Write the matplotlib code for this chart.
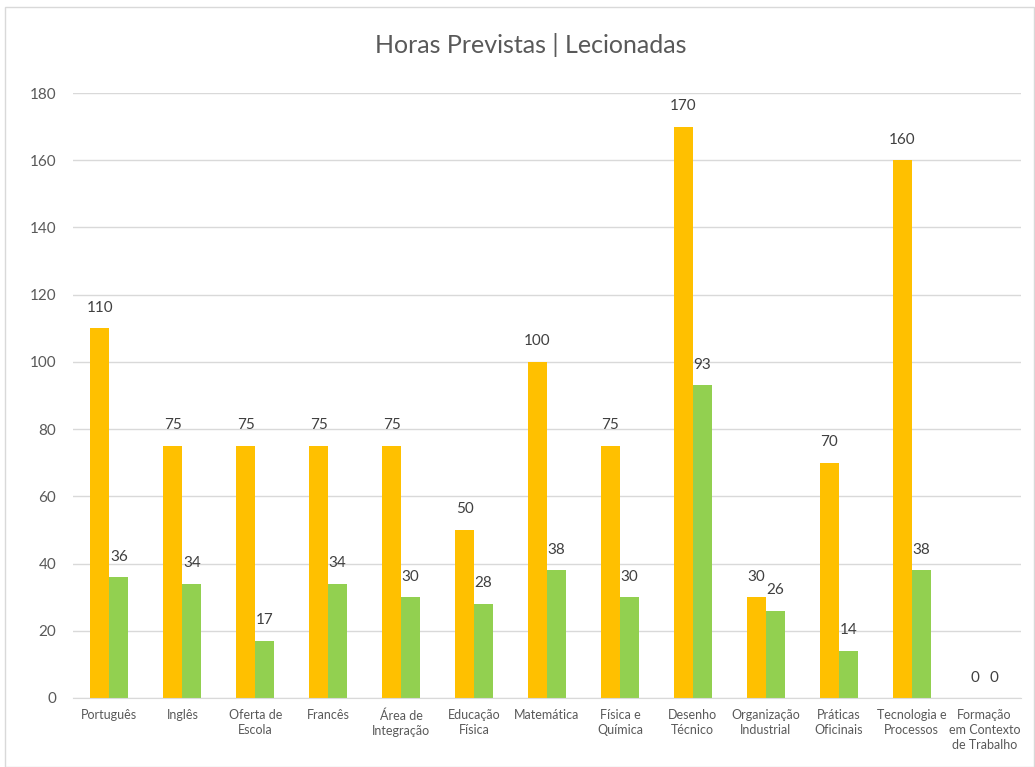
import numpy as np
import matplotlib.pyplot as plt
from matplotlib.patches import Rectangle

# ---------------------------------------------------------------
# Chart data.
# ---------------------------------------------------------------
categories = ["Português", "Inglês", "Oferta de\nEscola", "Francês", "Área de\nIntegração",
              "Educação\nFísica", "Matemática", "Física e\nQuímica", "Desenho\nTécnico",
              "Organização\nIndustrial", "Práticas\nOficinais", "Tecnologia e\nProcessos",
              "Formação\nem Contexto\nde Trabalho"]
previstas = [110, 75, 75, 75, 75, 50, 100, 75, 170, 30, 70, 160, 0]
lecionadas = [36, 34, 17, 34, 30, 28, 38, 30, 93, 26, 14, 38, 0]

plt.rcParams['font.family'] = ['Lato', 'DejaVu Sans']

fig = plt.figure(figsize=(10.35, 7.67), dpi=100)
ax = fig.add_axes([0.0705, 0.09, 0.916, 0.7887])

# thin border around the chart area
fig.patches.append(Rectangle((0.005, 0.0), 0.994, 0.991, transform=fig.transFigure,
                             fill=False, edgecolor="#D9D9D9", linewidth=1))

x = np.arange(len(categories))
w = 0.26
b1 = ax.bar(x - w/2, previstas, w, color="#FFC000", zorder=2)
b2 = ax.bar(x + w/2, lecionadas, w, color="#92D050", zorder=2)

for bars, vals in ((b1, previstas), (b2, lecionadas)):
    for rect, v in zip(bars, vals):
        ax.text(rect.get_x() + rect.get_width()/2, v + 4, str(v), ha="center", va="bottom",
                fontsize=11, color="#404040")

ax.set_xlim(-0.5, len(categories) - 0.5)
ax.set_ylim(0, 180)
ax.set_yticks(range(0, 181, 20))
ax.set_xticks(x)
ax.set_xticklabels(categories, fontsize=9, color="#595959", linespacing=1.3)
ax.tick_params(axis="y", labelsize=11, colors="#595959", length=0, pad=12)
ax.tick_params(axis="x", length=0, pad=8)
ax.grid(axis="y", color="#D9D9D9", linewidth=1, zorder=0)
for s in ("top", "right", "left"):
    ax.spines[s].set_visible(False)
ax.spines["bottom"].set_color("#D9D9D9")

fig.text(0.513, 0.941, "Horas Previstas | Lecionadas", ha="center", va="center",
         fontsize=18, color="#595959")

fig.savefig("out.png", dpi=100)
